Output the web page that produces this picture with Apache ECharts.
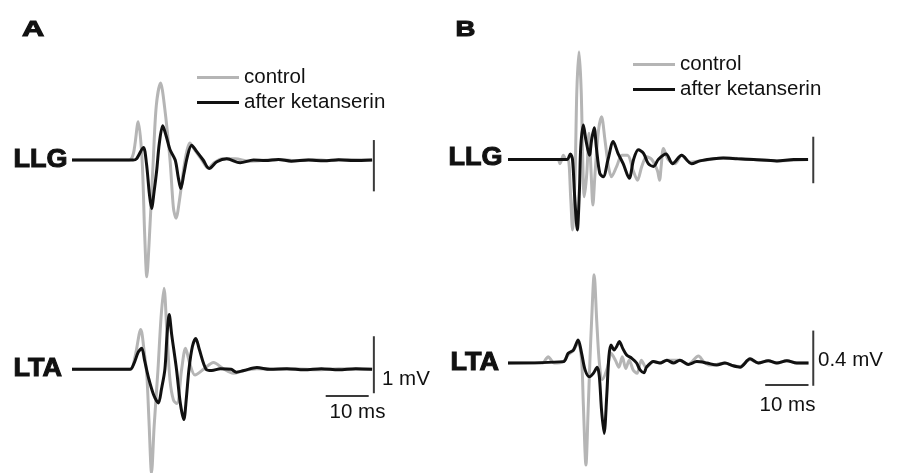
<!DOCTYPE html>
<html>
<head>
<meta charset="utf-8">
<script src="https://cdn.jsdelivr.net/npm/echarts@6/dist/echarts.min.js"></script>
<style>html,body{margin:0;padding:0;background:#fff;}#c{width:899px;height:473px;}</style>
</head>
<body>
<div id="c"></div>
<script>
// ---------- DATA (time in ms, potential in mV) ----------
const seriesNames = ['control', 'after ketanserin'];

// Panel A, LLG
const A_LLG_control = [[0,0],[13.3,0],[14.3,0.12],[15.4,0.67],[16.3,0],[16.9,-1.3],[17.4,-2.05],[17.9,-1.5],[18.9,0],[19.6,0.95],[20.6,1.35],[21.5,0.95],[22.8,0],[23.6,-0.85],[24.2,-1.02],[25.0,-0.7],[26.3,0],[27.4,0.3],[28.6,0.17],[30.2,0],[31.6,-0.14],[33.2,-0.04],[35,0.02],[38,0.02],[41,-0.02],[44,-0.01],[48,0.01],[52,-0.01],[56,0.01],[60,-0.01],[64,0.01],[69.8,0]];
const A_LLG_ketanserin = [[0,0],[14.2,0],[15.0,0.02],[16.6,0.22],[17.3,-0.05],[18.0,-0.6],[18.5,-0.85],[19.1,-0.55],[19.7,-0.18],[20.3,0.29],[21.1,0.6],[21.9,0.42],[22.8,0.18],[24.0,0],[24.7,-0.3],[25.3,-0.5],[26.0,-0.25],[26.8,0.05],[27.8,0.26],[28.8,0.17],[30.5,0],[31.9,-0.15],[33.7,-0.03],[36.0,0.02],[39.1,-0.05],[42.2,0],[45,-0.01],[48,0.01],[51,-0.02],[55,0],[58.6,-0.015],[62,0.005],[65.6,-0.01],[69.8,0]];

// Panel A, LTA
const A_LTA_control = [[0,0],[13.5,0],[14.6,0.2],[16.0,0.7],[16.8,0.3],[17.4,-0.1],[17.9,-0.9],[18.5,-1.82],[19.1,-1.0],[20.0,0],[20.7,0.9],[21.4,1.42],[22.1,0.6],[22.8,-0.2],[23.6,-0.54],[24.4,-0.6],[25.5,0],[26.4,0.37],[27.4,0.1],[28.6,-0.1],[30.6,0],[32.9,0.12],[35.2,0.01],[37.5,-0.07],[40,-0.02],[43,0.01],[47,0],[52,0.01],[57,-0.01],[62,0.01],[69.8,0]];
const A_LTA_ketanserin = [[0,0],[13.5,0],[14.4,0.1],[15.4,0.3],[16.2,0.37],[16.9,0.15],[17.8,-0.15],[19.0,-0.45],[20.1,-0.59],[20.8,-0.35],[21.6,0],[22.1,0.6],[22.6,0.96],[23.2,0.6],[24.3,0],[25.2,-0.6],[26.0,-0.88],[26.6,-0.5],[27.2,0],[28.0,0.4],[28.8,0.54],[29.6,0.35],[31.2,0],[32.5,-0.02],[34.5,0.01],[37,0],[38.2,-0.05],[40,-0.02],[43,0.03],[46,0],[50,0.01],[54,-0.01],[58,0.01],[62,-0.01],[66,0.01],[69.8,0]];

// Panel B, LLG
const B_LLG_control = [[0,0],[11.5,0],[12.0,-0.03],[12.8,0.03],[13.4,0],[13.9,0],[14.5,-0.29],[14.9,-0.51],[15.5,-0.1],[15.9,0.5],[16.4,0.78],[16.9,0.5],[17.3,-0.05],[17.6,-0.27],[18.2,-0.1],[18.7,0.19],[19.2,-0.1],[19.6,-0.33],[20.1,-0.1],[20.9,0.21],[21.6,0.31],[22.4,0.14],[23.2,-0.05],[23.9,-0.125],[25.1,-0.05],[26.3,0.03],[27.6,0.03],[28.9,-0.08],[29.9,-0.15],[30.9,-0.05],[32.0,0.02],[33.2,0],[34.5,-0.08],[35.0,-0.15],[35.4,-0.04],[35.9,0.08],[37.0,0],[38.6,-0.03],[40.1,0.03],[42.0,-0.02],[44.3,-0.01],[49.7,0.01],[56.7,0],[62.1,-0.01],[69.3,0]];
const B_LLG_ketanserin = [[0,0],[13.6,0],[14.4,0.04],[14.9,0],[15.4,-0.27],[16.0,-0.51],[16.5,-0.22],[16.8,0.09],[17.4,0.25],[18.0,0.14],[18.8,0.03],[19.3,0.14],[19.9,0.23],[20.4,0.09],[21.2,-0.1],[22.0,-0.125],[23.1,0],[24.3,0.13],[25.4,0.045],[26.6,-0.03],[28.0,-0.136],[29.0,0],[30.1,0.07],[31.3,0.045],[32.4,-0.03],[33.6,-0.05],[34.7,0],[36.5,0.04],[38.0,-0.03],[40.1,0.03],[42.4,-0.03],[44.3,-0.01],[49.7,0.01],[53,0.005],[56.7,0],[62.1,-0.01],[66,0],[69.3,0]];

// Panel B, LTA
const B_LTA_control = [[0,0],[8.0,0],[8.8,0.03],[9.3,0.045],[10.0,0.02],[10.6,0],[12.8,0.01],[13.9,0.06],[15.1,0.09],[16.2,0.15],[17.0,0.02],[17.4,-0.3],[18.0,-0.74],[18.5,-0.35],[18.9,0],[19.3,0.3],[19.9,0.64],[20.5,0.3],[21.1,0],[21.8,-0.12],[23.0,-0.03],[23.8,0.07],[24.8,0.02],[25.6,-0.03],[26.4,0.045],[27.2,-0.04],[28.0,0.02],[28.9,-0.05],[29.8,-0.075],[30.8,0.02],[31.9,-0.03],[33.6,0.01],[35.1,0],[36.7,0.02],[39.7,0.02],[41.6,-0.01],[44.0,0.05],[45.2,0.01],[46.6,-0.015],[48.2,-0.01],[50.1,0],[52.0,-0.02],[53.6,-0.025],[55.9,0.025],[57.8,0],[60.1,0.017],[62.1,0],[64.4,0.017],[66.7,0],[69.4,0]];
const B_LTA_ketanserin = [[0,0],[12.8,0.01],[13.9,0.07],[15.1,0.094],[16.2,0.167],[17.0,0.07],[17.8,-0.05],[18.8,-0.1],[19.7,-0.075],[20.6,-0.03],[21.1,-0.1],[21.6,-0.34],[22.2,-0.51],[22.8,-0.24],[23.3,0.046],[23.8,0.13],[24.5,0.094],[25.1,0.12],[25.7,0.155],[26.5,0.106],[27.4,0.058],[28.6,0.034],[29.7,0],[30.5,-0.05],[31.4,-0.07],[32.0,-0.03],[33.6,0.01],[35.1,0],[36.7,0.02],[38.2,0],[39.7,0.02],[41.6,-0.01],[43.6,0.01],[45.9,0],[48.2,-0.015],[50.1,0],[52.0,-0.02],[53.6,-0.03],[55.9,0.03],[57.8,0],[60.1,0.017],[62.1,0],[64.4,0.017],[66.7,0],[69.4,0]];

// Scale bars (data units)
const A_LLG_endBar = [[70.2,-0.55],[70.2,0.35]];
const A_LTA_voltBar = [[70.2,-0.42],[70.2,0.58]];   // 1 mV
const A_LTA_timeBar = [[59,-0.47],[69,-0.47]];      // 10 ms
const B_LLG_endBar = [[70.5,-0.172],[70.5,0.165]];
const B_LTA_voltBar = [[70.5,-0.165],[70.5,0.235]]; // 0.4 mV
const B_LTA_timeBar = [[59.4,-0.16],[69.4,-0.16]];  // 10 ms

const labels = {panelA:'A', panelB:'B', llg:'LLG', lta:'LTA', voltA:'1 mV', voltB:'0.4 mV', time:'10 ms'};

// ---------- LAYOUT ----------
const GRAY = '#b5b5b5', BLACK = '#111111', BAR = '#3a3a3a';
const FONT = 'Liberation Sans, Arial, Helvetica, sans-serif';
const colA = {left:72, pxPerMs:4.3, xMax:71, pxPerMv:57, yMax:1.8};
const colB = {left:508, pxPerMs:4.33, xMax:71, pxPerMv:138, yMax:0.75};
const panels = [
  {col:colA, base:160, ctrl:A_LLG_control, ket:A_LLG_ketanserin, bars:[A_LLG_endBar]},
  {col:colA, base:369.3, ctrl:A_LTA_control, ket:A_LTA_ketanserin, bars:[A_LTA_voltBar, A_LTA_timeBar]},
  {col:colB, base:159.5, ctrl:B_LLG_control, ket:B_LLG_ketanserin, bars:[B_LLG_endBar]},
  {col:colB, base:363, ctrl:B_LTA_control, ket:B_LTA_ketanserin, bars:[B_LTA_voltBar, B_LTA_timeBar]}
];

const grid = [], xAxis = [], yAxis = [], series = [];
panels.forEach((p, i) => {
  const c = p.col;
  grid.push({left:c.left, top:p.base - c.yMax*c.pxPerMv, width:c.xMax*c.pxPerMs, height:2*c.yMax*c.pxPerMv, show:false, containLabel:false, outerBoundsMode:'none'});
  xAxis.push({type:'value', gridIndex:i, min:0, max:c.xMax, show:false});
  yAxis.push({type:'value', gridIndex:i, min:-c.yMax, max:c.yMax, show:false});
  series.push({name:seriesNames[0], type:'line', xAxisIndex:i, yAxisIndex:i, data:p.ctrl, showSymbol:false, symbol:'none', smooth:0.3, color:GRAY, lineStyle:{color:GRAY, width:3}, z:2, clip:false});
  series.push({name:seriesNames[1], type:'line', xAxisIndex:i, yAxisIndex:i, data:p.ket, showSymbol:false, symbol:'none', smooth:0.3, color:BLACK, lineStyle:{color:BLACK, width:3}, z:3, clip:false});
  p.bars.forEach(b => series.push({name:'scale', type:'line', xAxisIndex:i, yAxisIndex:i, data:b, symbol:'none', silent:true, color:BAR, lineStyle:{color:BAR, width:2}, z:1, clip:false}));
});

function txt(text, x, y, size, bold, align, sx) {
  const st = {text:text, fontSize:size, fontWeight:bold ? 'bold' : 'normal', fontFamily:FONT, fill:'#111',
      align:align || 'left', textAlign:align || 'left', verticalAlign:'middle', textVerticalAlign:'middle'};
  if (bold) { st.stroke = '#111'; st.lineWidth = 1; }
  return {type:'text', x:x, y:y, scaleX:sx || 1, silent:true, style:st};
}

const legendBase = {data:seriesNames, orient:'vertical', icon:'rect', itemWidth:42, itemHeight:3, itemGap:4,
  textStyle:{fontSize:20.5, fontFamily:FONT, color:'#111'}, padding:0};

const option = {
  animation:false,
  backgroundColor:'#fff',
  grid, xAxis, yAxis, series,
  legend:[Object.assign({left:197, top:67}, legendBase), Object.assign({left:633, top:54}, legendBase)],
  graphic:[
    txt(labels.panelA, 22, 29.5, 22, true, 'left', 1.4),
    txt(labels.panelB, 455.5, 29.5, 22, true, 'left', 1.25),
    txt(labels.llg, 13.5, 160.5, 25, true, 'left', 1.08),
    txt(labels.lta, 13.5, 369, 25, true, 'left', 1.08),
    txt(labels.llg, 448.5, 158.5, 25, true, 'left', 1.08),
    txt(labels.lta, 450.5, 363, 25, true, 'left', 1.08),
    txt(labels.voltA, 382, 379, 20.5, false, 'left'),
    txt(labels.time, 357.5, 412, 20.5, false, 'center'),
    txt(labels.voltB, 818, 360, 20.5, false, 'left'),
    txt(labels.time, 787.5, 405, 20.5, false, 'center')
  ]
};

const chart = echarts.init(document.getElementById('c'), null, {renderer:'canvas'});
chart.setOption(option);
</script>
</body>
</html>
